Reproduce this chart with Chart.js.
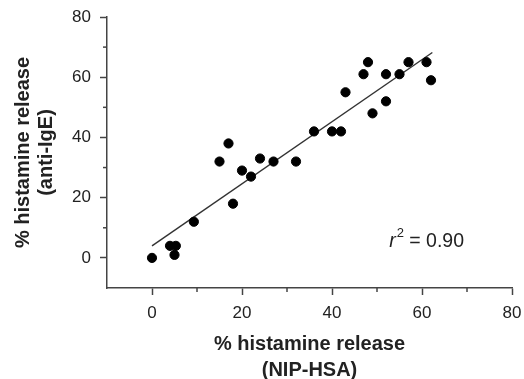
<!DOCTYPE html>
<html>
<head>
<meta charset="utf-8">
<script src="https://cdn.jsdelivr.net/npm/chart.js@4"></script>
<style>
  html, body { margin: 0; padding: 0; background: #fff; }
  #wrap { width: 524px; height: 379px; }
</style>
</head>
<body>
<div id="wrap"><canvas id="chart" width="524" height="379"></canvas></div>
<script>
// data
const nipHsa = [0, 4, 5.3, 5, 9.3, 15, 17, 18, 20, 22, 24, 27, 32, 36, 40, 42, 43, 47, 48, 49, 52, 52, 55, 57, 61, 62];
const antiIgE = [0, 4, 4, 1, 12, 32, 38, 18, 29, 27, 33, 32, 32, 42, 42, 42, 55, 61, 65, 48, 61, 52, 61, 65, 65, 59];
// regression line end points
const fitX = [0, 62.3];
const fitY = [4, 68.2];
const xTickLabels = [0, 20, 40, 60, 80];
const yTickLabels = [0, 20, 40, 60, 80];
const rSquared = "0.90";

const axisColor = "#444";
const textColor = "#222";

const isMajor = (v, labels) => labels.includes(v);

// short minor ticks + r² annotation
const extras = {
  id: "extras",
  afterDraw(chart) {
    const { ctx } = chart;
    const x = chart.scales.x, y = chart.scales.y;
    ctx.save();
    ctx.strokeStyle = axisColor;
    ctx.lineWidth = 1.5;
    x.ticks.forEach((t) => {
      if (t.value > x.min && !isMajor(t.value, xTickLabels)) {
        const px = x.getPixelForValue(t.value);
        ctx.beginPath();
        ctx.moveTo(px, x.top);
        ctx.lineTo(px, x.top + 4);
        ctx.stroke();
      }
    });
    y.ticks.forEach((t) => {
      if (t.value > y.min && !isMajor(t.value, yTickLabels)) {
        const py = y.getPixelForValue(t.value);
        ctx.beginPath();
        ctx.moveTo(y.right, py);
        ctx.lineTo(y.right - 4, py);
        ctx.stroke();
      }
    });

    // r² = 0.90
    let tx = x.getPixelForValue(52.7);
    const ty = y.getPixelForValue(3.7);
    ctx.fillStyle = textColor;
    ctx.textBaseline = "alphabetic";
    ctx.textAlign = "left";
    ctx.font = "italic 19.5px 'Liberation Sans', Arial, sans-serif";
    ctx.fillText("r", tx, ty);
    tx += ctx.measureText("r").width + 1;
    ctx.font = "13px 'Liberation Sans', Arial, sans-serif";
    ctx.fillText("2", tx, ty - 10);
    tx += ctx.measureText("2").width;
    ctx.font = "19.5px 'Liberation Sans', Arial, sans-serif";
    ctx.fillText(" = " + rSquared, tx, ty);
    ctx.restore();
  },
};

const tickFont = { family: "'Liberation Sans', Arial, sans-serif", size: 17 };
const titleFont = { family: "'Liberation Sans', Arial, sans-serif", size: 20, weight: "bold", lineHeight: 1.3 };

new Chart(document.getElementById("chart"), {
  type: "scatter",
  data: {
    datasets: [
      {
        data: nipHsa.map((v, i) => ({ x: v, y: antiIgE[i] })),
        backgroundColor: "#000",
        borderColor: "#000",
        pointRadius: 4.6,
        pointHoverRadius: 4.6,
      },
      {
        type: "line",
        data: fitX.map((v, i) => ({ x: v, y: fitY[i] })),
        borderColor: "#333",
        borderWidth: 1.4,
        pointRadius: 0,
        fill: false,
      },
    ],
  },
  options: {
    responsive: false,
    animation: false,
    events: [],
    layout: { padding: { left: 0, top: 17, right: 12, bottom: 0 } },
    plugins: { legend: { display: false }, tooltip: { enabled: false } },
    scales: {
      x: {
        type: "linear",
        min: -10,
        max: 80,
        afterFit: (s) => {
          s.height = 91;
          s.paddingLeft = 0;
          s.paddingRight = 0;
        },
        border: { display: true, color: axisColor, width: 1.5 },
        grid: {
          drawOnChartArea: false,
          drawTicks: true,
          tickLength: 7,
          tickWidth: 1.5,
          tickColor: (c) => (c.tick && isMajor(c.tick.value, xTickLabels) ? axisColor : "rgba(0,0,0,0)"),
        },
        ticks: {
          stepSize: 10,
          padding: 8,
          color: textColor,
          font: tickFont,
          maxRotation: 0,
          autoSkip: false,
          callback: (v) => (isMajor(v, xTickLabels) ? v : ""),
        },
        title: {
          display: true,
          text: ["% histamine release", "(NIP-HSA)"],
          color: textColor,
          font: titleFont,
          padding: { top: 0, bottom: -4 },
        },
      },
      y: {
        type: "linear",
        min: -10,
        max: 80,
        afterFit: (s) => {
          s.width = 107;
          s.paddingTop = 0;
          s.paddingBottom = 0;
        },
        border: { display: true, color: axisColor, width: 1.5 },
        grid: {
          drawOnChartArea: false,
          drawTicks: true,
          tickLength: 7,
          tickWidth: 1.5,
          tickColor: (c) => (c.tick && isMajor(c.tick.value, yTickLabels) ? axisColor : "rgba(0,0,0,0)"),
        },
        ticks: {
          stepSize: 10,
          padding: 9,
          color: textColor,
          font: tickFont,
          autoSkip: false,
          callback: (v) => (isMajor(v, yTickLabels) ? v : ""),
        },
        title: {
          display: true,
          text: ["% histamine release", "(anti-IgE)"],
          color: textColor,
          font: { ...titleFont, lineHeight: 1.15 },
          padding: { top: 12, bottom: 0 },
        },
      },
    },
  },
  plugins: [extras],
});
</script>
</body>
</html>
